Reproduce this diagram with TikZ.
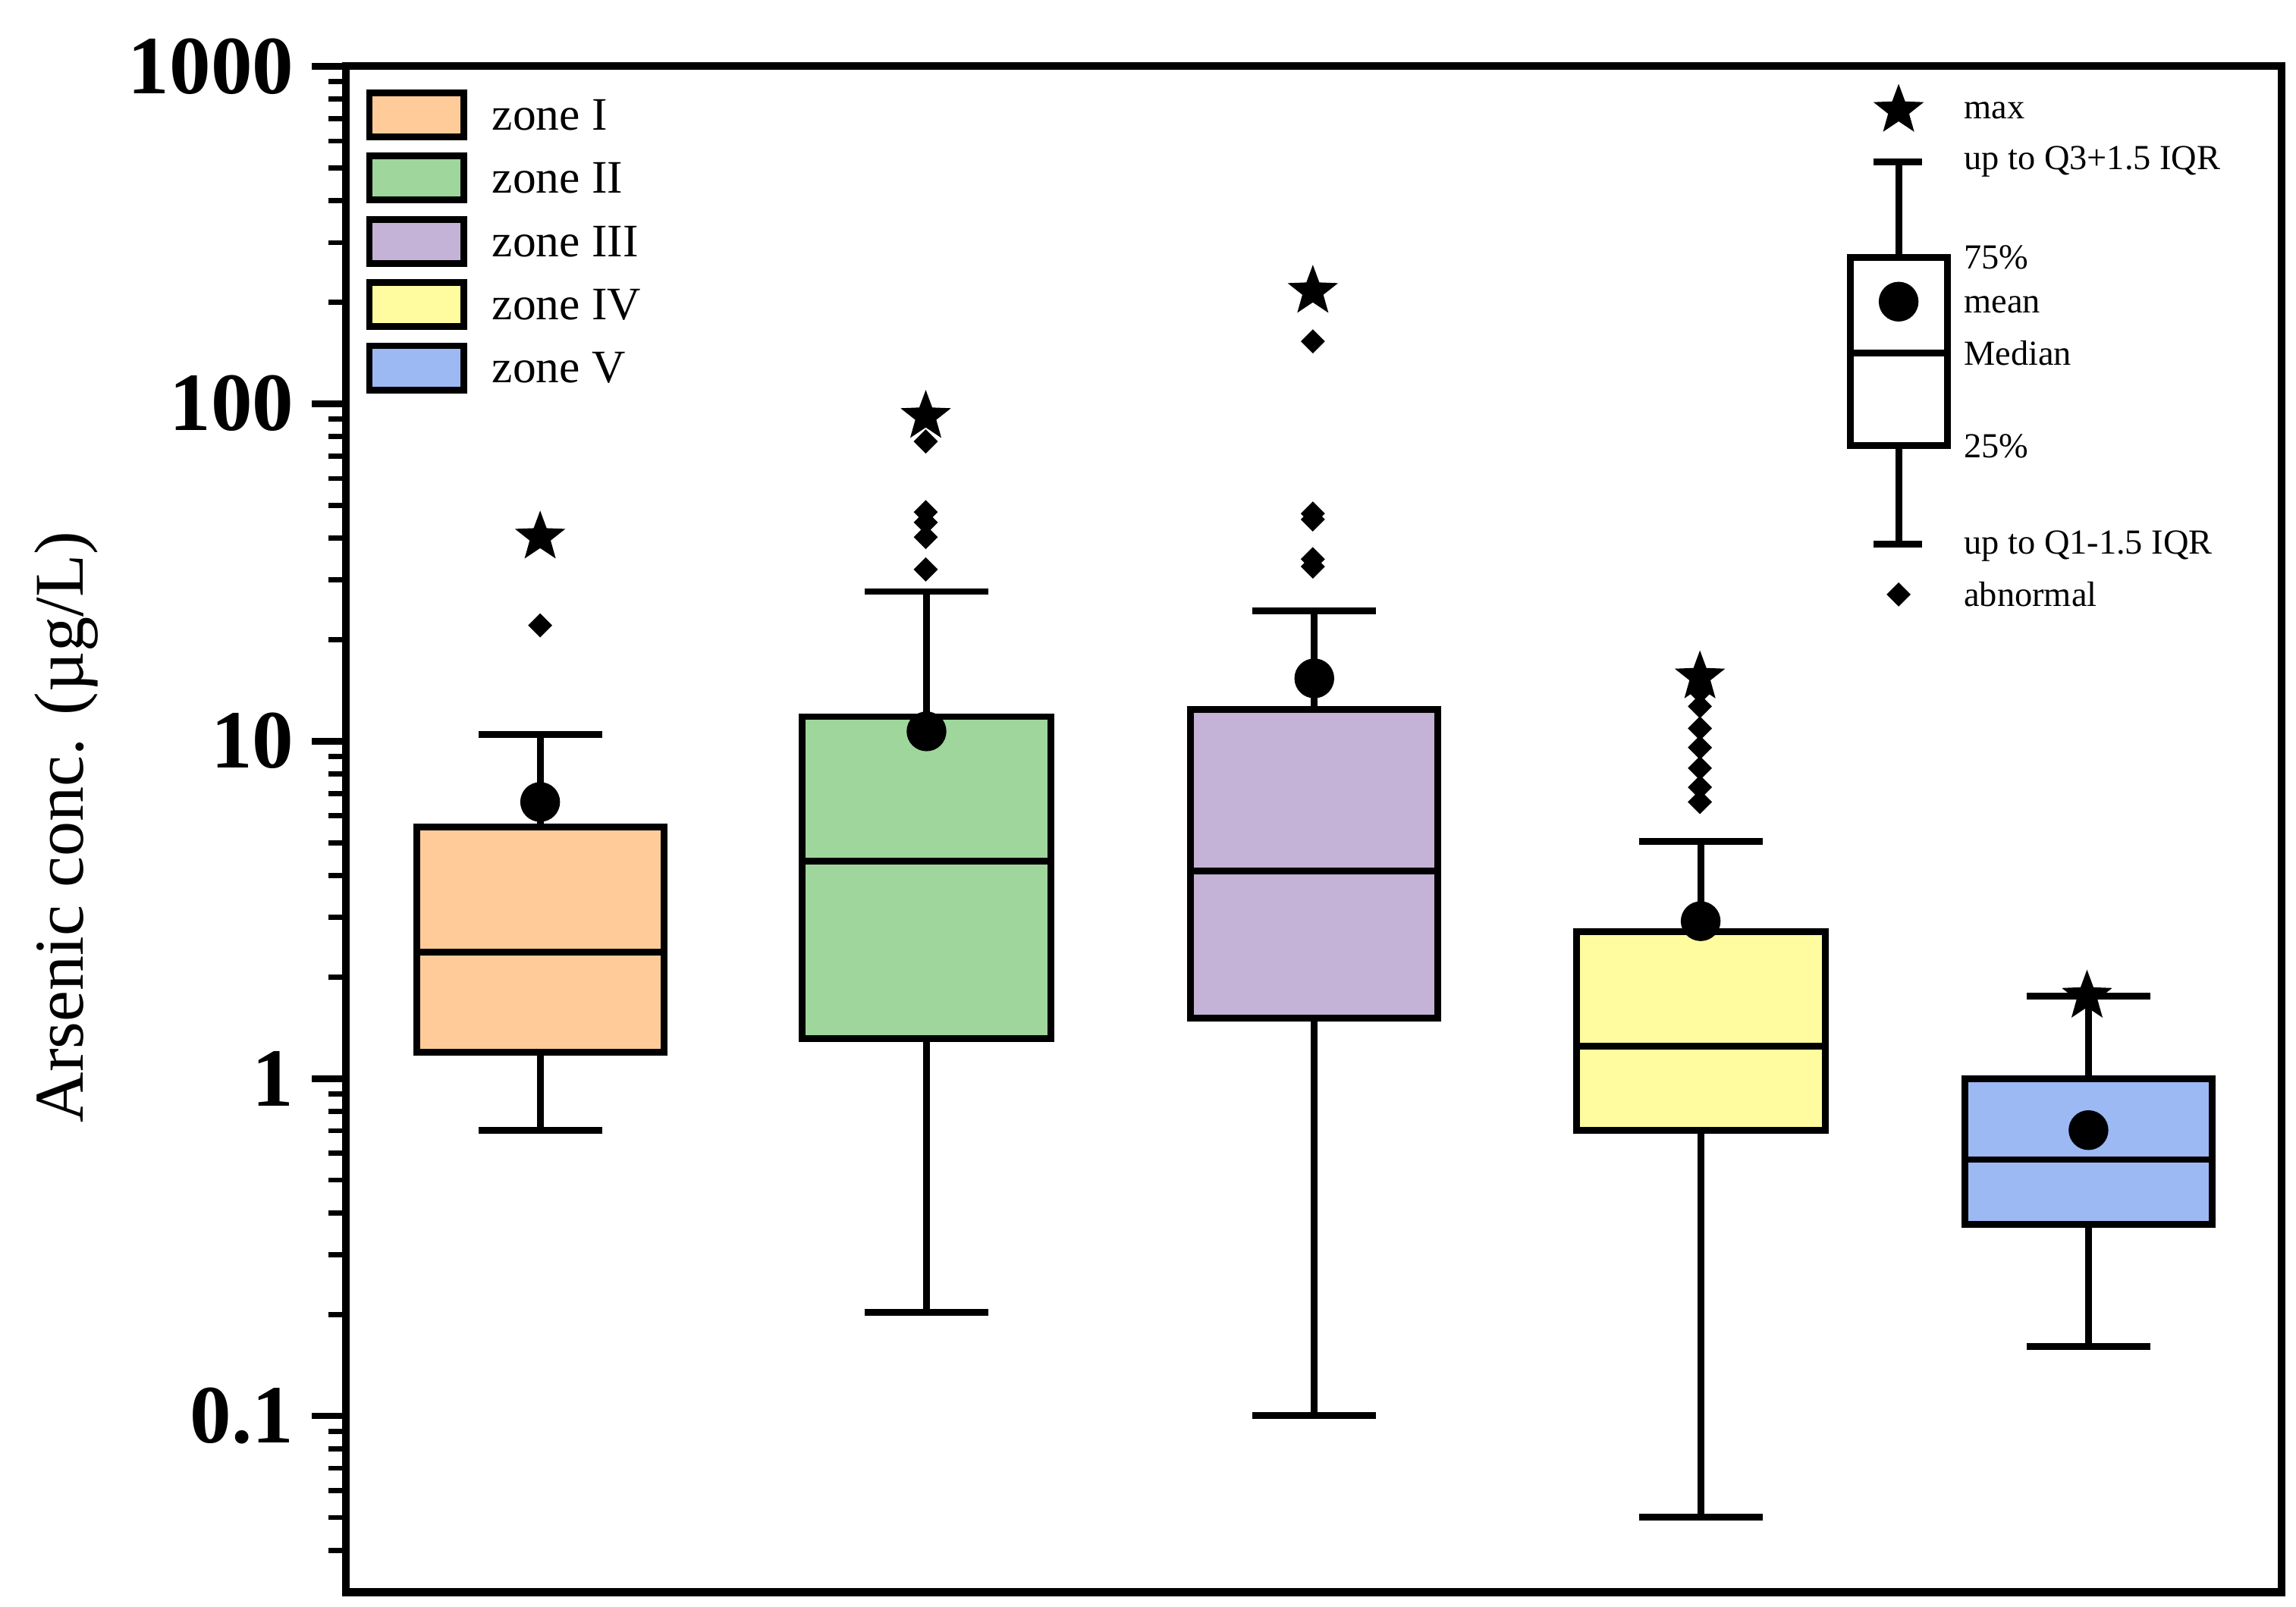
\documentclass[tikz,border=0pt]{standalone}
\usepackage{fontspec}
\setmainfont{Liberation Serif}
\usetikzlibrary{shapes.geometric}
\begin{document}
\begin{tikzpicture}[x=0.01cm,y=-0.01cm,
  bx/.style={draw=black,line width=1.3pt},
  ln/.style={line width=1.3pt},
  mn/.style={circle,fill=black,inner sep=0pt,minimum size=0.27cm},
  st/.style={star,star points=5,star point ratio=2.4,fill=black,inner sep=0pt,minimum size=0.36cm},
  dm/.style={diamond,fill=black,inner sep=0pt,minimum size=0.17cm},
  lg/.style={font=\fontsize{9}{10}\selectfont,anchor=west},
  rl/.style={font=\fontsize{6.8}{8}\selectfont,anchor=west},
  tk/.style={font=\bfseries\fontsize{16}{18}\selectfont,anchor=east}]
\useasboundingbox (0,0) rectangle (1560,1092);
\definecolor{c1}{HTML}{FFCC99}
\definecolor{c2}{HTML}{9ED69B}
\definecolor{c3}{HTML}{C4B3D6}
\definecolor{c4}{HTML}{FFFB9F}
\definecolor{c5}{HTML}{9CB9F4}
% axes frame
\draw[line width=1.5pt] (235,45) rectangle (1550,1082);
% ticks
\foreach \d/\lab in {0/1000,1/100,2/10,3/1,4/0.1}{
  \pgfmathsetmacro{\yy}{45+229.3*\d}
  \draw[line width=1.3pt] (235,\yy) -- (212,\yy);
  \node[tk] at (212,\yy) {\lab};
}
\foreach \d in {0,1,2,3,4}{
  \foreach \m in {2,...,9}{
    \pgfmathsetmacro{\yy}{45+229.3*(\d+1)-229.3*log10(\m)}
    \ifdim \yy pt<1082pt \draw[line width=1pt] (235,\yy) -- (223,\yy);\fi
  }
}
\node[rotate=90,font=\fontsize{13.5}{15}\selectfont] (yl) at (45,562) {Arsenic conc. (µg/L)};
% box plots: x1 x2 q1 q3 med top bot color mean
\foreach \xa/\xb/\qa/\qb/\md/\tp/\bt/\cc/\mm in {
  283/451/715/562/647/499/768/c1/545,
  545/714/706/487/585/402/892/c2/497,
  809/977/692/482/592/415/962/c3/461,
  1071/1240/768/633/711/572/1031/c4/626,
  1335/1503/832/733/788/677/915/c5/768}{
  \pgfmathsetmacro{\xc}{(\xa+\xb)/2}
  \draw[ln] (\xc,\qb) -- (\xc,\tp) (\xc-42,\tp) -- (\xc+42,\tp);
  \draw[ln] (\xc,\qa) -- (\xc,\bt) (\xc-42,\bt) -- (\xc+42,\bt);
  \draw[bx,fill=\cc] (\xa,\qa) rectangle (\xb,\qb);
  \draw[ln] (\xa,\md) -- (\xb,\md);
  \node[mn] at (\xc,\mm) {};
}
% outliers and max
\node[st] (s1) at (367,365) {};
\node[dm] at (367,425) {};
\node[st] (s2) at (629,283) {};
\foreach \y in {300,348,355,365,387} \node[dm] at (629,\y) {};
\node[st] (s3) at (892,198) {};
\foreach \y in {232,349,353,380,385} \node[dm] at (892,\y) {};
\foreach \y in {470,480,495,508,522,535,545} \node[dm] at (1155,\y) {};
\node[st] (s4) at (1155,460) {};
\node[st] (s5) at (1418,677) {};
% left legend
\foreach \y/\cc/\t in {78/c1/zone I,121/c2/zone II,164/c3/zone III,207/c4/zone IV,250/c5/zone V}{
  \draw[bx,fill=\cc] (251,\y-15) rectangle (315,\y+15);
  \node[lg] at (322,\y) {\t};
}
% right legend
\node[st] at (1290,75) {};
\node[rl] at (1322,75) {max};
\draw[ln] (1273,110) -- (1306,110) (1290,110) -- (1290,175);
\node[rl] at (1322,110) {up to Q3+1.5 IQR};
\draw[bx,fill=white] (1257,175) rectangle (1323,303);
\draw[ln] (1257,240) -- (1323,240);
\node[mn] at (1290,205) {};
\draw[ln] (1290,303) -- (1290,370) (1273,370) -- (1306,370);
\node[rl] at (1322,175) {75\%};
\node[rl] at (1322,207) {mean};
\node[rl] at (1322,240) {Median};
\node[rl] at (1322,303) {25\%};
\node[rl] at (1322,371) {up to Q1-1.5 IQR};
\node[dm] at (1290,404) {};
\node[rl] at (1322,404) {abnormal};
\end{tikzpicture}
\end{document}
